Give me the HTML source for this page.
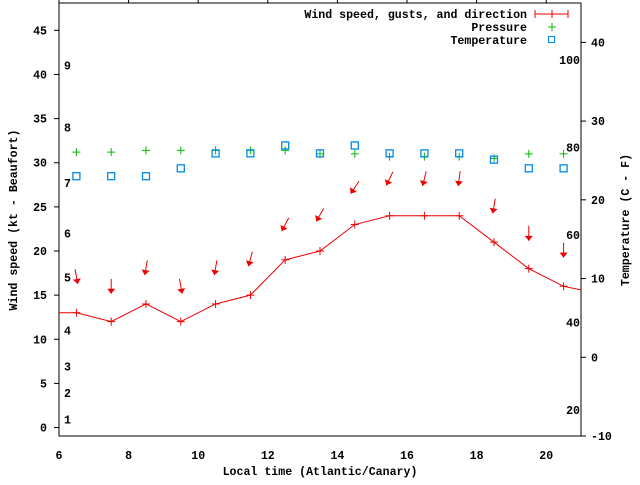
<!DOCTYPE html>
<html><head><meta charset="utf-8"><style>
body{margin:0;background:#fff;}
svg text{font-family:"Liberation Mono",monospace;font-weight:bold;font-size:11.6px;fill:#000;}
</style></head><body>
<svg id="chart" width="640" height="480" xmlns="http://www.w3.org/2000/svg">
<g id="axes"></g>
<g id="marks"></g>
<g id="legend">
  <text x="527" y="18" text-anchor="end">Wind speed, gusts, and direction</text>
  <line x1="535" y1="14" x2="568" y2="14" stroke="#e00"/>
  <line x1="535" y1="10" x2="535" y2="18" stroke="#e00"/>
  <line x1="568" y1="10" x2="568" y2="18" stroke="#e00"/>
  <line x1="552" y1="10" x2="552" y2="18" stroke="#e00"/>
  <text x="527" y="31" text-anchor="end">Pressure</text>
  <path d="M548 27h8M552 23v8" stroke="#0b0"/>
  <text x="527" y="44" text-anchor="end">Temperature</text>
  <rect x="548.5" y="36.5" width="6" height="6" fill="none" stroke="#08e"/>
</g>
</svg>
<script>
const hours=[6.5,7.5,8.5,9.5,10.5,11.5,12.5,13.5,14.5,15.5,16.5,17.5,18.5,19.5,20.5];
const windSpeed=[13,12,14,12,14,15,19,20,23,24,24,24,21,18,16];
const gusts=[17.1,16,18.1,16,18.1,19.1,23,24.1,27.2,28.2,28.2,28.2,25.1,22,20.1];
const windDir=[350,0,10,350,10,15,28,30,34,26,14,7,10,0,0];
const pressure=[31.2,31.2,31.4,31.4,31.4,31.4,31.4,31.0,31.0,30.7,30.7,30.7,30.5,31.0,31.0];
const temperatureC=[23.0,23.0,23.0,24.0,25.9,25.9,26.9,25.9,26.9,25.9,25.9,25.9,25.1,24.0,24.0];
const xTicks=[6,8,10,12,14,16,18,20];
const yTicks=[0,5,10,15,20,25,30,35,40,45];
const y2Ticks=[-10,0,10,20,30,40];
const fTicks=[20,40,60,80,100];
const beaufortLabels=["1","2","3","4","5","6","7","8","9"];
const beaufortPos=[0.9,3.9,6.9,11,17,22,27.7,34,41];

const L=59,R=581,T=3,B=436;
const X=h=>L+(h-6)/(21-6)*(R-L);
const Y=v=>B-(v+0.96)/(48.1+0.96)*(B-T);
const Y2=c=>B-(c+10)/55*(B-T);
const NS="http://www.w3.org/2000/svg";
function mk(tag,attrs,parent,text){const e=document.createElementNS(NS,tag);for(const k in attrs)e.setAttribute(k,attrs[k]);if(text!==undefined)e.textContent=text;parent.appendChild(e);return e;}
const axes=document.getElementById('axes'),marks=document.getElementById('marks');

let e=mk('rect',{x:L,y:T,width:R-L,height:B-T,fill:'none',stroke:'#000'},axes);


xTicks.forEach(t=>{
  let g=mk('line',{x1:X(t),x2:X(t),y1:T,y2:T-5,stroke:'#000'},axes);
  
  
  let l=mk('text',{x:X(t),y:459,'text-anchor':'middle'},axes,String(t));
  
  
});
yTicks.forEach(t=>{
  let g=mk('line',{x1:L-5,x2:L,y1:Y(t),y2:Y(t),stroke:'#000'},axes);
  
  
  let l=mk('text',{x:47,y:Y(t)+4,'text-anchor':'end'},axes,String(t));
  
  
});
y2Ticks.forEach(t=>{
  let g=mk('line',{x1:R,x2:R+5,y1:Y2(t),y2:Y2(t),stroke:'#000'},axes);
  
  
  let l=mk('text',{x:591,y:Y2(t)+4},axes,String(t));
  
  
});
fTicks.forEach(f=>{
  let l=mk('text',{x:580,y:Y2((f-32)*5/9)+4,'text-anchor':'end'},axes,String(f));
  
  
});
beaufortLabels.forEach((b,i)=>{
  let l=mk('text',{x:64,y:Y(beaufortPos[i])+4},axes,b);
  
  
});
e=mk('text',{x:320,y:475,'text-anchor':'middle'},axes,'Local time (Atlantic/Canary)');


e=mk('text',{x:17,y:220,'text-anchor':'middle',transform:'rotate(-90 17 220)'},axes,'Wind speed (kt - Beaufort)');


e=mk('text',{x:629,y:220,'text-anchor':'middle',transform:'rotate(-90 629 220)'},axes,'Temperature (C - F)');



// wind line, extended to plot edges
const n=hours.length;
const rightEdge=windSpeed[n-1]+(windSpeed[n-1]-windSpeed[n-2])*0.5*0.4;
let pts=[[X(6),Y(windSpeed[0])]].concat(hours.map((h,i)=>[X(h),Y(windSpeed[i])]));
pts.push([X(21),Y(rightEdge)]);
e=mk('polyline',{points:pts.map(p=>p.join(',')).join(' '),fill:'none',stroke:'#e00'},marks);


hours.forEach((h,i)=>{
  let m=mk('path',{d:`M${X(h)-4} ${Y(windSpeed[i])}h8M${X(h)} ${Y(windSpeed[i])-4}v8`,stroke:'#e00'},marks);
  
  
  // gust arrow centered at gust value, pointing downwind
  const a=windDir[i]*Math.PI/180,len=15;
  const dx=Math.sin(a),dy=-Math.cos(a); // toward source
  const cx=X(h),cy=Y(gusts[i]);
  const tx=cx+dx*len/2,ty=cy+dy*len/2,hx=cx-dx*len/2,hy=cy-dy*len/2;
  const px=-dy,py=dx;
  let ar=mk('g',{},marks);
  
  
  mk('line',{x1:tx,y1:ty,x2:hx,y2:hy,stroke:'#e00'},ar);
  mk('polygon',{points:`${hx},${hy} ${hx+dx*5+px*4},${hy+dy*5+py*4} ${hx+dx*5-px*4},${hy+dy*5-py*4}`,fill:'#e00'},ar);
  let p=mk('path',{d:`M${X(h)-4} ${Y(pressure[i])}h8M${X(h)} ${Y(pressure[i])-4}v8`,stroke:'#0b0'},marks);
  
  
  let s=mk('rect',{x:X(h)-3.5,y:Y2(temperatureC[i])-3.5,width:7,height:7,fill:'none',stroke:'#08e','stroke-width':1.3},marks);
  
  
});
</script>
</body></html>
